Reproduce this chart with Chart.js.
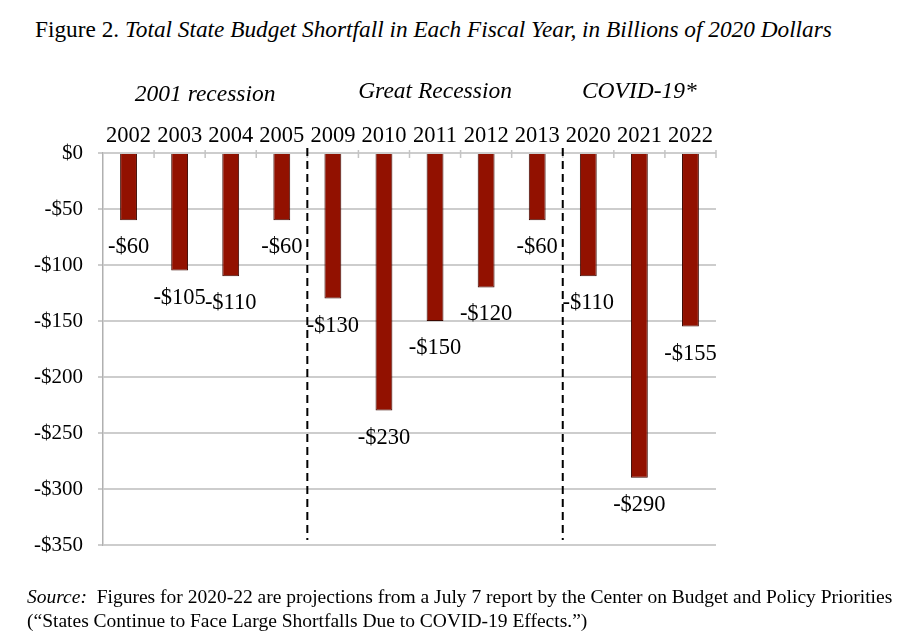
<!DOCTYPE html>
<html>
<head>
<meta charset="utf-8">
<script src="https://cdn.jsdelivr.net/npm/chart.js@4/dist/chart.umd.min.js"></script>
<style>
  body { margin: 0; background: #fff; font-family: "Liberation Serif", "Times New Roman", serif; }
  #wrap { position: absolute; left: 0; top: 0; width: 904px; height: 644px; }
  #title { position: absolute; left: 35px; top: 16px; font-size: 23.3px; color: #000; white-space: nowrap; }
  #source { position: absolute; left: 27px; top: 585px; font-size: 19.5px; line-height: 24px; color: #000; white-space: nowrap; }
</style>
</head>
<body>
<div id="title">Figure 2. <i>Total State Budget Shortfall in Each Fiscal Year, in Billions of 2020 Dollars</i></div>
<div id="wrap"><canvas id="shortfallChart"></canvas></div>
<div id="source"><i>Source:</i>&nbsp; Figures for 2020-22 are projections from a July 7 report by the Center on Budget and Policy Priorities<br>(“States Continue to Face Large Shortfalls Due to COVID-19 Effects.”)</div>
<script>
// Datos del gráfico
const years = ['2002', '2003', '2004', '2005', '2009', '2010', '2011', '2012', '2013', '2020', '2021', '2022'];
const shortfall = [-60, -105, -110, -60, -130, -230, -150, -120, -60, -110, -290, -155];
const groupNames = ['2001 recession', 'Great Recession', 'COVID-19*'];
const groupFirst = [0, 4, 9];
const groupLast = [3, 8, 11];

const serif = '"Liberation Serif", "Times New Roman", serif';

function money(v) {
    return (v < 0 ? '-' : '') + '$' + Math.abs(v);
}

// Etiquetas de grupos, líneas punteadas, marcas y valores
const extrasPlugin = {
    id: 'extras',
    afterDatasetsDraw(chart) {
        const ctx = chart.ctx;
        const x = chart.scales.x;
        const area = chart.chartArea;
        const step = x.getPixelForValue(1) - x.getPixelForValue(0);

        ctx.save();
        // pequeñas marcas en la línea de $0
        ctx.strokeStyle = '#c4c4c4';
        ctx.lineWidth = 1.5;
        for (let i = 1; i <= years.length; i++) {
            const px = x.getPixelForValue(i) - step / 2;
            ctx.beginPath();
            ctx.moveTo(px, area.top - 3);
            ctx.lineTo(px, area.top + 5);
            ctx.stroke();
        }

        // líneas punteadas entre grupos
        ctx.strokeStyle = '#000';
        ctx.lineWidth = 2;
        ctx.setLineDash([8, 5]);
        for (let g = 1; g < groupFirst.length; g++) {
            const px = (x.getPixelForValue(groupLast[g - 1]) + x.getPixelForValue(groupFirst[g])) / 2;
            ctx.beginPath();
            ctx.moveTo(px, area.top - 5);
            ctx.lineTo(px, area.bottom - 5);
            ctx.stroke();
        }
        ctx.setLineDash([]);

        // nombres de los grupos
        ctx.fillStyle = '#000';
        ctx.font = 'italic 23.5px ' + serif;
        ctx.textAlign = 'center';
        ctx.textBaseline = 'middle';
        groupNames.forEach((name, g) => {
            const px = (x.getPixelForValue(groupFirst[g]) + x.getPixelForValue(groupLast[g])) / 2;
            ctx.fillText(name, px, g === 0 ? 95 : 92);
        });

        // valores bajo cada barra
        ctx.font = '22.5px ' + serif;
        const meta = chart.getDatasetMeta(0);
        meta.data.forEach((bar, i) => {
            ctx.fillText(money(shortfall[i]), bar.x, bar.y + 27);
        });
        ctx.restore();
    }
};

const ctx = document.getElementById('shortfallChart').getContext('2d');
new Chart(ctx, {
    type: 'bar',
    data: {
        labels: years,
        datasets: [{
            data: shortfall,
            backgroundColor: '#921100',
            borderColor: '#3c0800',
            borderWidth: 1,
            barPercentage: 0.33,
            categoryPercentage: 1
        }]
    },
    options: {
        responsive: true,
        maintainAspectRatio: false,
        animation: false,
        layout: { padding: { left: 0, top: 0, right: 188, bottom: 99 } },
        plugins: { legend: { display: false }, tooltip: { enabled: false } },
        scales: {
            x: {
                position: 'top',
                grid: { display: false },
                border: { display: false },
                ticks: { color: '#000', font: { family: serif, size: 22.5 }, padding: -5, maxRotation: 0, autoSkip: false },
                afterFit(scale) { scale.height = 153; }
            },
            y: {
                min: -350,
                max: 0,
                grid: { color: '#cdcdcd', lineWidth: 2, tickLength: 5 },
                border: { color: '#b0b0b0', width: 1.5 },
                ticks: {
                    stepSize: 50,
                    color: '#000',
                    font: { family: serif, size: 21 },
                    padding: 15,
                    callback: v => money(v)
                },
                afterFit(scale) { scale.width = 103; }
            }
        }
    },
    plugins: [extrasPlugin]
});
</script>
</body>
</html>
